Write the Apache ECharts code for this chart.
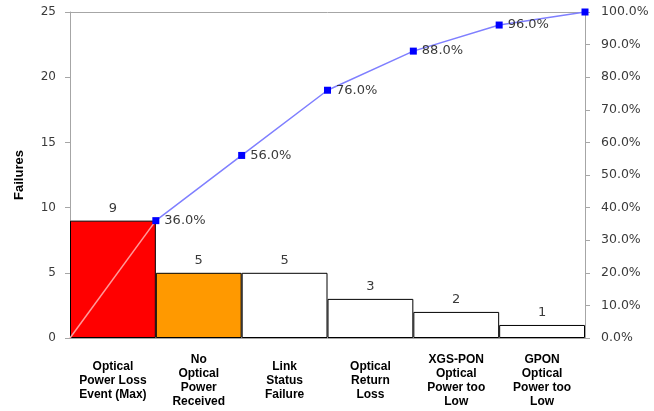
<!DOCTYPE html>
<html><head><meta charset="utf-8">
<script src="https://cdn.jsdelivr.net/npm/echarts@6/dist/echarts.min.js"></script>
<style>html,body{margin:0;padding:0;background:#fff}#c{width:654px;height:411px}</style>
</head><body><div id="c"></div>
<script>
const categories = ["Optical\nPower Loss\nEvent (Max)", "No\nOptical\nPower\nReceived", "Link\nStatus\nFailure", "Optical\nReturn\nLoss", "XGS-PON\nOptical\nPower too\nLow", "GPON\nOptical\nPower too\nLow"];
const failures = [9, 5, 5, 3, 2, 1];
const barColors = ["#ff0000", "#ff9900", "#ffffff", "#ffffff", "#ffffff", "#ffffff"];
const cumulativePct = [36, 56, 76, 88, 96, 100];
const startPct = 0;
const leftTicks = {min: 0, max: 25, interval: 5};
const rightTicks = {min: 0, max: 100, interval: 10};

const chart = echarts.init(document.getElementById('c'), null, {renderer: 'canvas'});
const lineData = cumulativePct.map((v, i) => [i + 1, v]);
const firstSeg = [[0, startPct], [1, cumulativePct[0]]];
const axisGray = '#a6a6a6';
const txt = '#3a3a3a';
chart.setOption({
  animation: false,
  grid: {left: 70, right: 69, top: 12, bottom: 73},
  xAxis: [{
    type: 'category', data: categories,
    axisLine: {lineStyle: {color: axisGray}}, axisTick: {show: false},
    axisLabel: {interval: 0, color: '#000', fontFamily: 'Liberation Sans, Arial', fontWeight: 'bold', fontSize: 12, lineHeight: 14, verticalAlign: 'middle', margin: 43}
  }, {
    type: 'value', min: 0, max: 6, position: 'top',
    axisLine: {show: true, onZero: false, lineStyle: {color: axisGray}}, axisTick: {show: false}, axisLabel: {show: false}, splitLine: {show: false}
  }],
  yAxis: [{
    type: 'value', min: leftTicks.min, max: leftTicks.max, interval: leftTicks.interval,
    name: 'Failures', nameLocation: 'middle', nameGap: 44, nameRotate: 90,
    nameTextStyle: {fontFamily: 'Liberation Sans, Arial', fontWeight: 'bold', fontSize: 13, color: '#000'},
    axisLine: {show: true, lineStyle: {color: axisGray}}, axisTick: {show: true, length: 5, lineStyle: {color: axisGray}},
    axisLabel: {color: txt, fontFamily: 'DejaVu Sans', fontSize: 12, margin: 14}, splitLine: {show: false}
  }, {
    type: 'value', min: rightTicks.min, max: rightTicks.max, interval: rightTicks.interval, position: 'right',
    axisLine: {show: true, lineStyle: {color: axisGray}}, axisTick: {show: true, length: 5, lineStyle: {color: axisGray}},
    axisLabel: {color: txt, fontFamily: 'DejaVu Sans', fontSize: 12.5, margin: 16, formatter: v => v.toFixed(1) + '%'}, splitLine: {show: false}
  }],
  series: [{
    type: 'bar', xAxisIndex: 0, yAxisIndex: 0, barCategoryGap: '0%',
    data: failures.map((v, i) => ({value: v, itemStyle: {color: barColors[i]}})),
    itemStyle: {borderColor: '#000', borderWidth: 1},
    label: {show: true, position: 'top', distance: 6, color: txt, fontFamily: 'DejaVu Sans', fontSize: 13}
  }, {
    type: 'line', xAxisIndex: 1, yAxisIndex: 1, data: firstSeg, symbol: 'none',
    lineStyle: {color: '#ff9a9a', width: 1.5}
  }, {
    type: 'line', xAxisIndex: 1, yAxisIndex: 1, data: lineData,
    symbol: 'rect', symbolSize: 7, itemStyle: {color: '#0000ff'},
    lineStyle: {color: '#7f7fff', width: 1.5},
    label: {show: true, position: 'right', distance: 5, color: txt, fontFamily: 'DejaVu Sans', fontSize: 13,
      formatter: p => p.value[1] >= 100 ? '' : p.value[1].toFixed(1) + '%'}
  }]
});
</script></body></html>
